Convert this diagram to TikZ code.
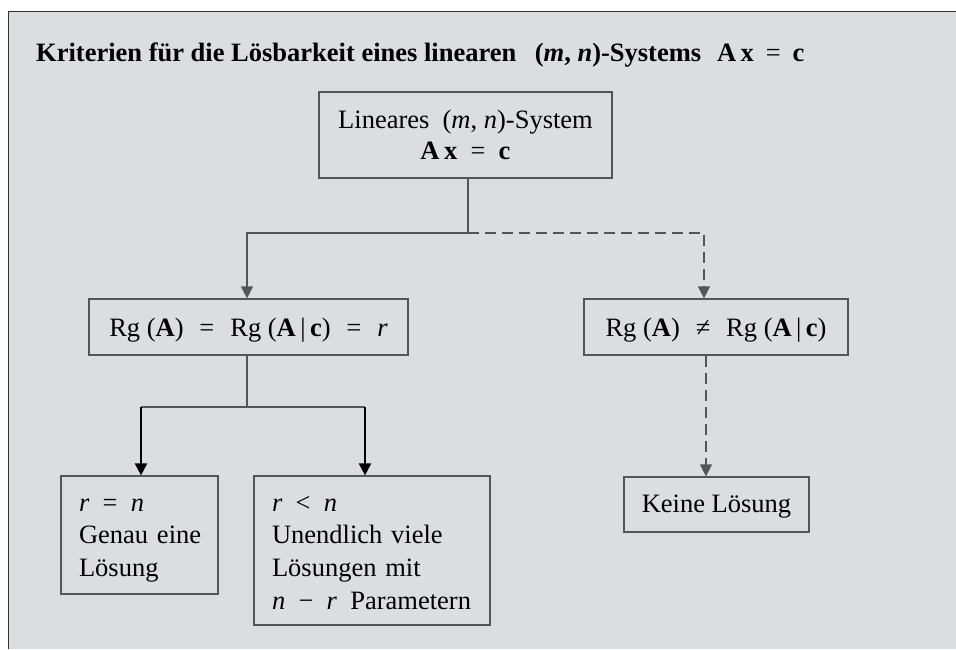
\documentclass[tikz,border=0pt]{standalone}
\usepackage{fontspec}
\setmainfont{Liberation Serif}
\usetikzlibrary{arrows.meta}
\definecolor{panel}{HTML}{DCDDDF}
\definecolor{edge}{HTML}{555555}
\tikzset{
  box/.style={draw=edge, line width=1.2pt, inner sep=0pt, font=\fontsize{26.5}{32.7}\selectfont},
  listbox/.style={box, inner xsep=18pt, text width=#1},
  conn/.style={draw=edge, line width=1.3pt},
  thickconn/.style={draw=black, line width=2pt},
  dashconn/.style={draw=edge, line width=1.3pt, dash pattern=on 11pt off 6pt},
  tip/.style={-{Triangle[width=12pt,length=12pt]}},
}
\newcommand{\bA}{\textbf{A}}
\newcommand{\bc}{\textbf{c}}
\newcommand{\bx}{\textbf{x}}
\newcommand{\eqsp}{\hspace{0.6em}}
\newcommand{\lines}[1]{\begin{tabular}[t]{@{}l@{}}#1\end{tabular}}
\newcommand{\clines}[1]{\begin{tabular}[t]{@{}c@{}}#1\end{tabular}}
\begin{document}
\begin{tikzpicture}[x=1pt, y=-1pt]
  \useasboundingbox (0,0) rectangle (956,649);
  % grey panel with rule on top and left
  \fill[panel] (8,11) rectangle (956,649);
  \draw[black!80, line width=1pt] (8,649) -- (8,11) -- (956,11);

  % heading
  \node[anchor=base west, inner sep=0pt, font=\fontsize{26.5}{30}\selectfont\bfseries] (title) at (36,61)
    {Kriterien für die Lösbarkeit eines linearen\hspace{0.7em}(\textit{m}, \textit{n})-Systems\hspace{0.6em}\bA\,\bx\hspace{0.45em}{\mdseries=}\hspace{0.45em}\bc};

  % boxes (text height/depth put each first baseline in place)
  \node[box, minimum width=293pt, text height=36pt, text depth=50pt, font=\fontsize{26.5}{31}\selectfont] (sys) at (465.5,135)
    {\clines{Lineares\enspace(\textit{m}, \textit{n})-System\\\bA\,\bx\enspace=\enspace\bc}};
  \node[box, minimum width=319pt, text height=37pt, text depth=19pt] (eq) at (248.5,327)
    {Rg\ (\bA)\eqsp=\eqsp Rg\ (\bA\,|\,\bc)\eqsp=\eqsp\textit{r}};
  \node[box, minimum width=264pt, text height=37pt, text depth=19pt] (neq) at (716,327)
    {Rg\ (\bA)\eqsp≠\eqsp Rg\ (\bA\,|\,\bc)};
  \node[listbox=121pt, text height=35pt, text depth=83pt] (one) at (139.5,535)
    {\lines{\textit{r}\enspace=\enspace\textit{n}\\Genau eine\\Lösung}};
  \node[listbox=200pt, text height=35pt, text depth=114pt] (many) at (372,550.5)
    {\lines{\textit{r}\enspace<\enspace\textit{n}\\Unendlich viele\\Lösungen mit\\\textit{n}\enspace−\enspace\textit{r}\enspace Parametern}};
  \node[box, minimum width=185pt, text height=35pt, text depth=20pt] (none) at (716.5,504.5)
    {Keine Lösung};

  % branch points
  \coordinate (j1) at (468,233);
  \coordinate (j2) at (247,407);

  % connectors
  \draw[conn] (sys.south -| j1) -- (j1);
  \draw[conn, tip] (j1) -| ([xshift=-1.5pt]eq.north);
  \draw[dashconn, tip] (j1) -| ([xshift=-12pt]neq.north);
  \draw[conn] (eq.south -| j2) -- (j2);
  \draw[conn] ([xshift=1.5pt]one.north |- j2) -- ([xshift=-7pt]many.north |- j2);
  \draw[thickconn, tip] ([xshift=1.5pt]one.north |- j2) -- ([xshift=1.5pt]one.north);
  \draw[thickconn, tip] ([xshift=-7pt]many.north |- j2) -- ([xshift=-7pt]many.north);
  \draw[dashconn, tip] ([xshift=-10pt]neq.south) -- ([xshift=-10.5pt]none.north);
\end{tikzpicture}
\end{document}
